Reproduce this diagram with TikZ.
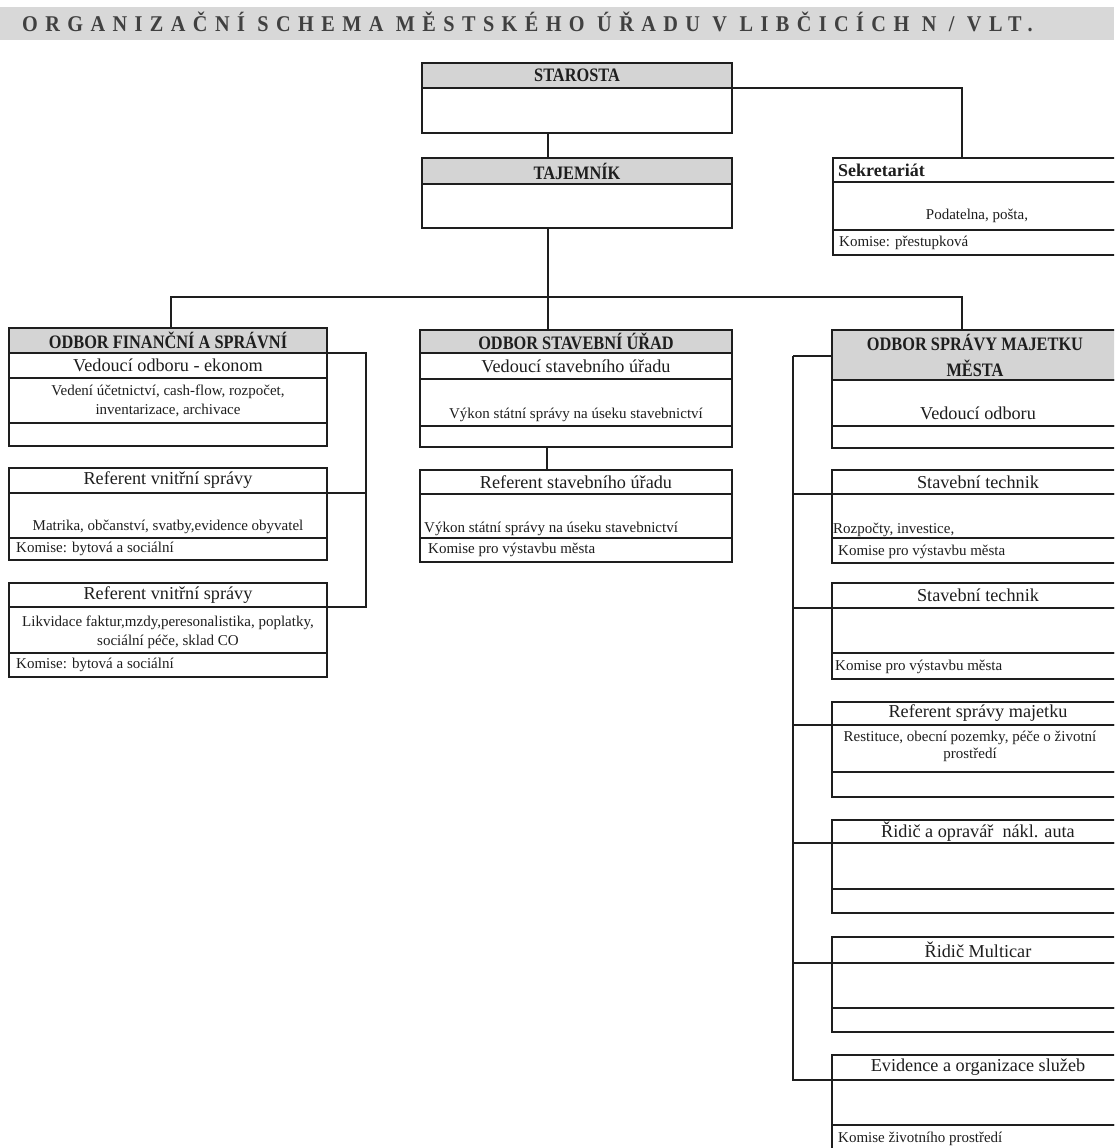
\documentclass[tikz,border=0pt]{standalone}
\usepackage{fontspec}
\setmainfont{Liberation Serif}
\newfontfamily\condfont[FakeStretch=0.86]{Liberation Serif}
\newfontfamily\titlefont[FakeStretch=0.9,LetterSpace=33]{Liberation Serif}
\usetikzlibrary{calc}
\definecolor{hdrgray}{HTML}{D4D4D4}
\definecolor{titlegray}{HTML}{D8D8D8}
\definecolor{ink}{HTML}{1E1E1E}
\newcommand\mkrow[6][rowst]{%
  \pgfmathsetmacro\rw{#5-#3}\pgfmathsetmacro\rh{#6-#4}%
  \node[#1,anchor=north west,minimum width=\rw pt,minimum height=\rh pt] (#2) at (#3,#4) {};}
\begin{document}
\begin{tikzpicture}[x=1pt,y=-1pt,
  rowst/.style={draw=ink,line width=1.9pt,inner sep=0pt,outer sep=0pt,fill=white},
  hdrst/.style={rowst,fill=hdrgray},
  ttl/.style={inner sep=0pt,text=ink,font=\fontsize{18.2}{20}\selectfont},
  sm/.style={inner sep=0pt,text=ink,font=\fontsize{15}{19}\selectfont},
  bh/.style={inner sep=0pt,text=ink,font=\condfont\bfseries\fontsize{19}{26}\selectfont},
  conn/.style={draw=ink,line width=1.2pt}]
\useasboundingbox (0,0) rectangle (1114,1148);
\clip (0,0) rectangle (1114,1148);
\fill[white] (0,0) rectangle (1114,1148);
% title
\fill[titlegray] (0,7) rectangle (1114,40);
\node[anchor=base west,inner sep=0pt,text=ink!85,font=\titlefont\bfseries\fontsize{22.5}{24}\selectfont] (title) at (22,32) {ORGANIZAČNÍ SCHEMA MĚSTSKÉHO ÚŘADU V LIBČICÍCH N / VLT.};
% Starosta, Tajemnik
\mkrow[hdrst]{staH}{422}{63}{732}{88}
\mkrow{staB}{422}{88}{732}{133}
\mkrow[hdrst]{tajH}{422}{158}{732}{184}
\mkrow{tajB}{422}{184}{732}{228}
% Sekretariat
\mkrow{sekH}{833}{158}{1124}{182}
\mkrow{sekM}{833}{182}{1124}{230}
\mkrow{sekB}{833}{230}{1124}{255}
% Odbor financni
\mkrow[hdrst]{finH}{9}{328}{327}{353}
\mkrow{finR1}{9}{353}{327}{378}
\mkrow{finR2}{9}{378}{327}{423}
\mkrow{finR3}{9}{423}{327}{446}
\mkrow{lAH}{9}{468}{327}{493}
\mkrow{lAM}{9}{493}{327}{538}
\mkrow{lAB}{9}{538}{327}{560}
\mkrow{lBH}{9}{583}{327}{607}
\mkrow{lBM}{9}{607}{327}{653}
\mkrow{lBB}{9}{653}{327}{677}
% Odbor stavebni
\mkrow[hdrst]{stvH}{420}{330}{732}{353}
\mkrow{stvR1}{420}{353}{732}{379}
\mkrow{stvR2}{420}{379}{732}{426}
\mkrow{stvR3}{420}{426}{732}{447}
\mkrow{mAH}{420}{470}{732}{494}
\mkrow{mAM}{420}{494}{732}{538}
\mkrow{mAB}{420}{538}{732}{562}
% Odbor spravy majetku
\mkrow[hdrst]{majH}{832}{330}{1124}{380}
\mkrow{majR2}{832}{380}{1124}{426}
\mkrow{majR3}{832}{426}{1124}{448}
\mkrow{rAH}{832}{470}{1124}{494}
\mkrow{rAM}{832}{494}{1124}{538}
\mkrow{rAB}{832}{538}{1124}{563}
\mkrow{rBH}{832}{583}{1124}{608}
\mkrow{rBM}{832}{608}{1124}{653}
\mkrow{rBB}{832}{653}{1124}{679}
\mkrow{rCH}{832}{702}{1124}{725}
\mkrow{rCM}{832}{725}{1124}{772}
\mkrow{rCB}{832}{772}{1124}{797}
\mkrow{rDH}{832}{820}{1124}{843}
\mkrow{rDM}{832}{843}{1124}{889}
\mkrow{rDB}{832}{889}{1124}{913}
\mkrow{rEH}{832}{937}{1124}{963}
\mkrow{rEM}{832}{963}{1124}{1008}
\mkrow{rEB}{832}{1008}{1124}{1032}
\mkrow{rFH}{832}{1055}{1124}{1080}
\mkrow{rFM}{832}{1080}{1124}{1125}
\mkrow{rFB}{832}{1125}{1124}{1170}
% connectors
\draw[conn] (staH.south east) -| ([xshift=-16.5pt]sekH.north);
\draw[conn] ([xshift=-29pt]staB.south) -- ([xshift=-29pt]tajH.north);
\coordinate (bus) at (548,297);
\draw[conn] ([xshift=-29pt]tajB.south) -- (bus);
\draw[conn] ([xshift=3pt]finH.north) |- (bus) -| ([xshift=-16pt]majH.north);
\draw[conn] (bus) -- ([xshift=-28pt]stvH.north);
\draw[conn] ([xshift=-29pt]stvR3.south) -- ([xshift=-29pt]mAH.north);
\coordinate (lbr) at (366,353);
\draw[conn] (finH.south east) -- (lbr) |- (lBH.south east);
\draw[conn] (lAH.south east) -- (lAH.south east -| lbr);
\coordinate (rbr) at (793,356);
\draw[conn] (rbr) -- (rbr -| majH.west);
\draw[conn] (rbr) |- (rFH.south west);
\foreach \n in {rAH,rBH,rCH,rDH,rEH} \draw[conn] (\n.south west) -- (\n.south west -| rbr);
% texts
\node[bh] (tSta) at (staH) {STAROSTA};
\node[bh] (tTaj) at (tajH) {TAJEMNÍK};
\node[anchor=west,inner sep=0pt,text=ink,font=\bfseries\fontsize{18}{20}\selectfont] (tSek) at (838,170) {Sekretariát};
\node[sm] (tSekM) at (977,216) {Podatelna, pošta,};
\node[sm,anchor=west] (tSekB) at (839,243) {Komise: přestupková};
\node[bh] (tFin) at (finH) {ODBOR FINANČNÍ A SPRÁVNÍ};
\node[ttl] (tFin1) at (finR1) {Vedoucí odboru - ekonom};
\node[sm,align=center] (tFin2) at (finR2) {Vedení účetnictví, cash-flow, rozpočet,\\inventarizace, archivace};
\node[ttl] (tlA) at (lAH) {Referent vnitřní správy};
\node[sm] (tlAM) at (168,527) {Matrika, občanství, svatby,evidence obyvatel};
\node[sm,anchor=west] (tlAB) at (16,549) {Komise: bytová a sociální};
\node[ttl] (tlB) at (lBH) {Referent vnitřní správy};
\node[sm,align=center] (tlBM) at (168,632) {Likvidace faktur,mzdy,peresonalistika, poplatky,\\sociální péče, sklad CO};
\node[sm,anchor=west] (tlBB) at (16,665) {Komise: bytová a sociální};
\node[bh] (tStv) at (stvH) {ODBOR STAVEBNÍ ÚŘAD};
\node[ttl] (tStv1) at (stvR1) {Vedoucí stavebního úřadu};
\node[sm] (tStv2) at (576,415) {Výkon státní správy na úseku stavebnictví};
\node[ttl] (tmA) at (mAH) {Referent stavebního úřadu};
\node[sm,anchor=west] (tmAM) at (424,529) {Výkon státní správy na úseku stavebnictví};
\node[sm,anchor=west] (tmAB) at (428,550) {Komise pro výstavbu města};
\node[bh,align=center] (tMaj) at (975,355) {ODBOR SPRÁVY MAJETKU\\MĚSTA};
\node[ttl] (tMaj2) at (978,413) {Vedoucí odboru};
\node[ttl] (trA) at (rAH) {Stavební technik};
\node[sm,anchor=west] (trAM) at (833,530) {Rozpočty, investice,};
\node[sm,anchor=west] (trAB) at (838,552) {Komise pro výstavbu města};
\node[ttl] (trB) at (rBH) {Stavební technik};
\node[sm,anchor=west] (trBB) at (835,667) {Komise pro výstavbu města};
\node[ttl] (trC) at (rCH) {Referent správy majetku};
\node[sm,align=center,font=\fontsize{15}{17}\selectfont] (trCM) at (970,746) {Restituce, obecní pozemky, péče o životní\\prostředí};
\node[ttl] (trD) at (rDH) {Řidič a opravář\ \ nákl. auta};
\node[ttl] (trE) at (rEH) {Řidič Multicar};
\node[ttl] (trF) at (rFH) {Evidence a organizace služeb};
\node[sm,anchor=west] (trFB) at (838,1139) {Komise životního prostředí};
\end{tikzpicture}
\end{document}
